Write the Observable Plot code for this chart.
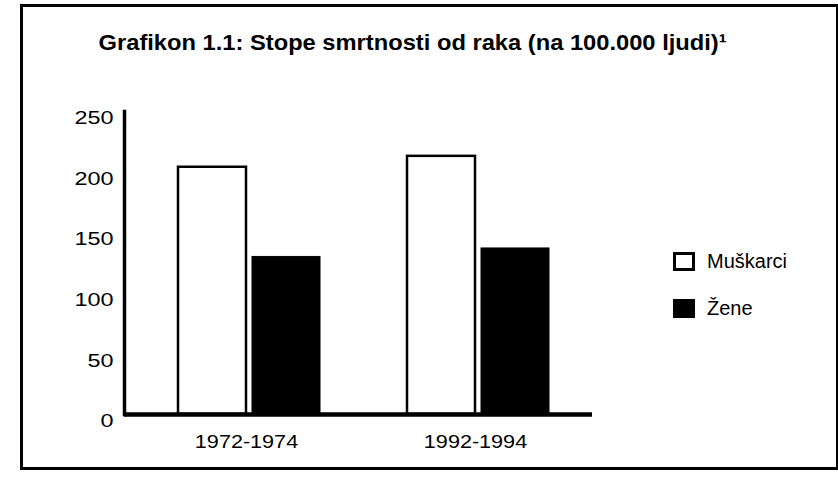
<!DOCTYPE html>
<html>
<head>
<meta charset="utf-8">
<script src="https://cdn.jsdelivr.net/npm/d3@7"></script>
<script src="https://cdn.jsdelivr.net/npm/@observablehq/plot@0.6"></script>
<style>
  html, body { margin: 0; padding: 0; background: #fff; }
  #wrap { position: relative; width: 838px; height: 480px; overflow: hidden; background: #fff; font-family: "Liberation Sans", Arial, sans-serif; color: #000; }
  #border { position: absolute; left: 20px; top: 4px; width: 819px; height: 466px; border: 3px solid #000; box-sizing: border-box; }
  #title { position: absolute; left: 0; top: 29px; width: 826px; text-align: center; }
  #title span { display: inline-block; font-weight: bold; font-size: 22px; line-height: 28px; white-space: nowrap; transform-origin: center; }
  #chart { position: absolute; left: 0; top: 0; }
  #legend { position: absolute; left: 673px; top: 252px; }
  .row { display: flex; align-items: center; height: 19px; margin-bottom: 28px; }
  .sw { width: 22px; height: 19px; box-sizing: border-box; border: 3px solid #000; margin-right: 12px; }
  .lab { font-size: 20px; white-space: nowrap; }
</style>
</head>
<body>
<div id="wrap">
  <div id="border"></div>
  <div id="title"><span id="titleText"></span></div>
  <div id="chart"></div>
  <div id="legend"></div>
</div>
<script>
// ---- data ----
const titleText = "Grafikon 1.1: Stope smrtnosti od raka (na 100.000 ljudi)\u00B9";
const groups = ["1972-1974", "1992-1994"];
const series = ["Muškarci", "Žene"];
const muskarci = [204, 213];
const zene = [130, 137];
const yTicks = [0, 50, 100, 150, 200, 250];
const seriesFill = ["#fff", "#000"];

const data = groups.flatMap((g, i) => [
  {group: g, series: series[0], value: muskarci[i]},
  {group: g, series: series[1], value: zene[i]}
]);

// ---- title ----
const ts = document.getElementById("titleText");
ts.textContent = titleText;

// ---- plot ----
const W = 838, H = 480;
const plot = Plot.plot({
  width: W, height: H,
  marginLeft: 124, marginRight: W - 592, marginTop: 111, marginBottom: H - 414,
  style: {background: "transparent", fontFamily: "'Liberation Sans', Arial, sans-serif", color: "#000", overflow: "visible"},
  x: {domain: groups, paddingInner: 0.382, paddingOuter: 0.21, align: 0.55, label: null},
  y: {domain: [0, 250], label: null},
  marks: [
    Plot.barY(data.filter(d => d.series === series[0]), {x: "group", y: "value", fill: seriesFill[0], stroke: "#000", strokeWidth: 2.5, insetRight: 74}),
    Plot.barY(data.filter(d => d.series === series[1]), {x: "group", y: "value", fill: seriesFill[1], stroke: "#000", strokeWidth: 1, insetLeft: 74}),
    Plot.axisY({ticks: yTicks, tickSize: 0, tickPadding: 11, fontSize: 18, dy: 7, label: null}),
    Plot.axisX({tickSize: 0, tickPadding: 21, fontSize: 18, dx: -3, label: null}),
    Plot.frame({anchor: "left", stroke: "#000", strokeWidth: 3.5}),
    Plot.ruleY([0], {stroke: "#000", strokeWidth: 4.5})
  ]
});
document.getElementById("chart").appendChild(plot);

// widen tick labels to match the reference's proportions
function stretch(sel, k) {
  plot.querySelectorAll(sel).forEach(t => {
    const len = t.getComputedTextLength();
    t.setAttribute("textLength", (len * k).toFixed(1));
    t.setAttribute("lengthAdjust", "spacingAndGlyphs");
  });
}
stretch('g[aria-label="y-axis tick label"] text', 1.3);
stretch('g[aria-label="x-axis tick label"] text', 1.2);

// fit title width
const tw = ts.getBoundingClientRect().width;
ts.style.transform = `scaleX(${(628 / tw).toFixed(3)})`;

// ---- legend ----
const leg = document.getElementById("legend");
series.forEach((s, i) => {
  const row = document.createElement("div");
  row.className = "row";
  const sw = document.createElement("div");
  sw.className = "sw";
  sw.style.background = seriesFill[i];
  const lab = document.createElement("span");
  lab.className = "lab";
  lab.textContent = s;
  row.appendChild(sw);
  row.appendChild(lab);
  leg.appendChild(row);
});
</script>
</body>
</html>
